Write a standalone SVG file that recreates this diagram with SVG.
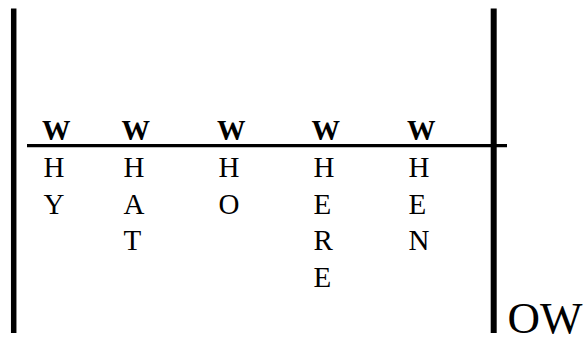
<svg xmlns="http://www.w3.org/2000/svg" width="587" height="339" viewBox="0 0 587 339">
<style>
.bar{stroke:#000;fill:none}
text{fill:#000}
.w{font-size:28.5px;font-weight:bold}
.l{font-size:29px}
.big{font-size:45px}
</style>
<rect width="587" height="339" fill="#fff"/>
<g id="connectors">
<line class="bar" x1="13.7" y1="8.5" x2="13.7" y2="333" stroke-width="5.5"/>
<line class="bar" x1="493.7" y1="8.5" x2="493.7" y2="333" stroke-width="6"/>
<line class="bar" x1="27" y1="145.7" x2="507" y2="145.7" stroke-width="3.2"/>
</g>
<g font-family="Liberation Serif, Times New Roman, serif">
<g id="why">
<text class="w" x="42" y="140">W</text>
<text class="l" x="43.5" y="177">H</text>
<text class="l" x="43.5" y="213.7">Y</text>
</g>
<g id="what">
<text class="w" x="121.5" y="140">W</text>
<text class="l" x="123.5" y="177">H</text>
<text class="l" x="123.5" y="213.7">A</text>
<text class="l" x="123.5" y="250.4">T</text>
</g>
<g id="who">
<text class="w" x="217" y="140">W</text>
<text class="l" x="218.5" y="177">H</text>
<text class="l" x="218.5" y="213.7">O</text>
</g>
<g id="where">
<text class="w" x="311.5" y="140">W</text>
<text class="l" x="313.5" y="177">H</text>
<text class="l" x="313.5" y="213.7">E</text>
<text class="l" x="313.5" y="250.4">R</text>
<text class="l" x="313.5" y="287.1">E</text>
</g>
<g id="when">
<text class="w" x="407" y="140">W</text>
<text class="l" x="408.5" y="177">H</text>
<text class="l" x="408.5" y="213.7">E</text>
<text class="l" x="408.5" y="250.4">N</text>
</g>
<g id="how">
<text class="big" x="507.5" y="333">OW</text>
</g>
</g>
</svg>
